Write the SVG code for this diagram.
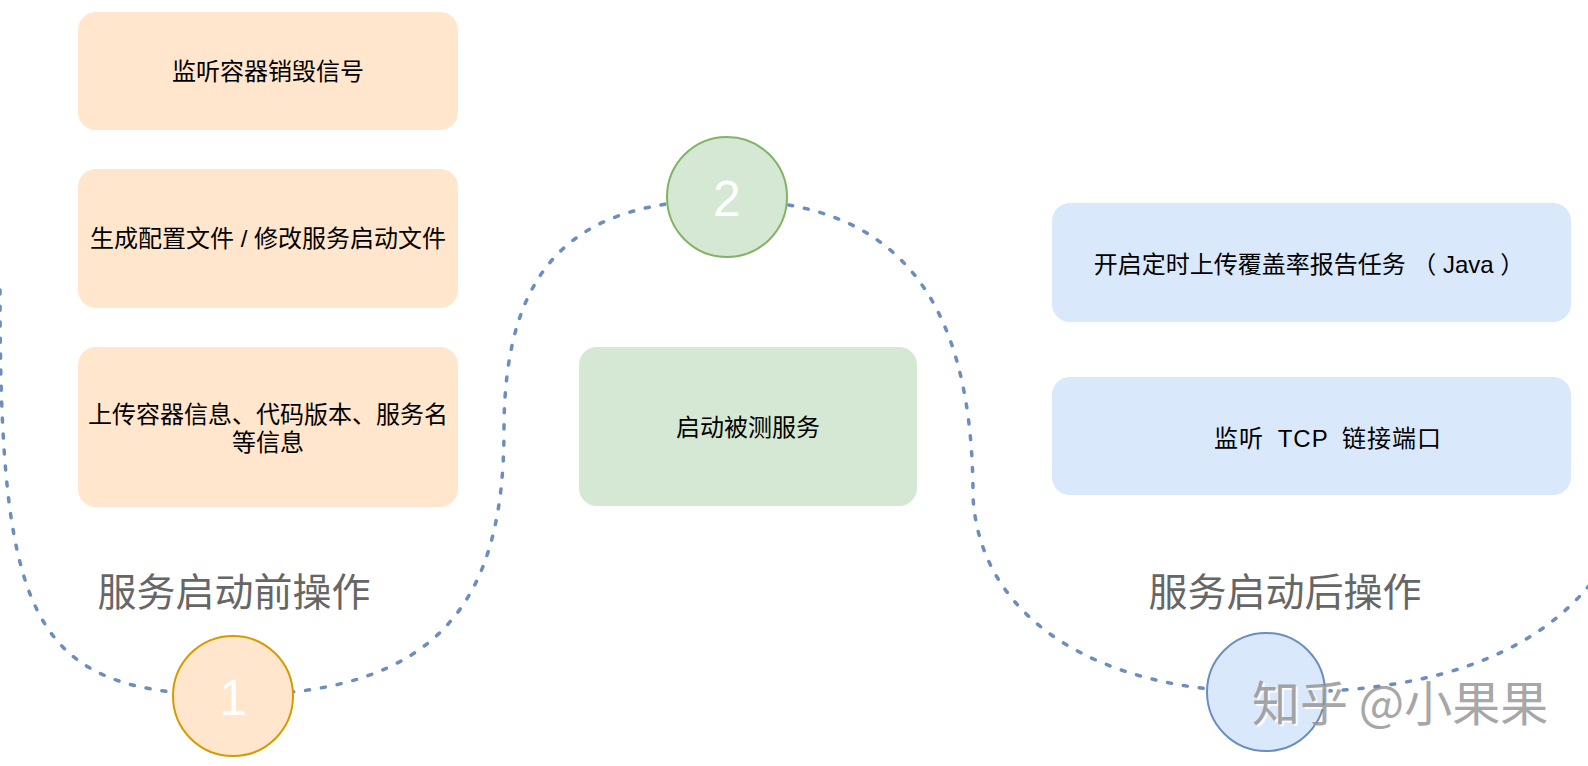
<svg xmlns="http://www.w3.org/2000/svg" width="1588" height="766" viewBox="0 0 1588 766">
<style>
.box{stroke:none}
.orange{fill:#ffe6cc}
.green{fill:#d5e8d4}
.blue{fill:#dae8fc}
.t{font-family:"Liberation Sans","Noto Sans CJK SC",sans-serif;font-size:24px;fill:#000;text-anchor:middle;dominant-baseline:central}
.big{font-family:"Noto Sans CJK SC","Liberation Sans",sans-serif;font-size:39px;fill:#666;text-anchor:middle;dominant-baseline:central}
.num{font-family:"Liberation Sans",Arial,sans-serif;font-size:50px;fill:#fff;text-anchor:middle;dominant-baseline:central}
.curve{fill:none;stroke:#6c8ebf;stroke-width:3.5;stroke-dasharray:4 12;stroke-linecap:round}
.wm{font-family:"Noto Sans CJK SC",sans-serif;font-size:48px;text-anchor:start;dominant-baseline:central}
</style>
<rect width="1588" height="766" fill="#fff"/>
<g id="connectors">
<path class="curve" d="M 0 290 C 0 620, 30 695, 233 695 C 440 695, 504 600, 504 430 C 504 260, 580 200, 727 200 C 890 200, 973 290, 973 497 C 980 620, 1100 692, 1266 692 C 1420 695, 1530 660, 1592 582"/>
</g>
<g id="box-destroy"><rect class="box orange" x="78" y="12" width="380" height="118" rx="18"/><text class="t" x="268" y="71">监听容器销毁信号</text></g>
<g id="box-config"><rect class="box orange" x="78" y="169" width="380" height="139" rx="18"/><text class="t" x="268" y="238">生成配置文件 / 修改服务启动文件</text></g>
<g id="box-upload"><rect class="box orange" x="78" y="347" width="380" height="160" rx="18"/><text class="t" x="268" y="414">上传容器信息、代码版本、服务名</text><text class="t" x="268" y="442">等信息</text></g>
<g id="box-start"><rect class="box green" x="579" y="347" width="338" height="159" rx="18"/><text class="t" x="748" y="427">启动被测服务</text></g>
<g id="box-report"><rect class="box blue" x="1052" y="203" width="519" height="119" rx="18"/><text class="t" x="1309" y="264">开启定时上传覆盖率报告任务 （ Java ）</text></g>
<g id="box-tcp"><rect class="box blue" x="1052" y="377" width="519" height="118" rx="18"/><text class="t" x="1328" y="438" word-spacing="6" letter-spacing="1">监听 TCP 链接端口</text></g>
<g id="label-before"><text class="big" x="234" y="589">服务启动前操作</text></g>
<g id="label-after"><text class="big" x="1285" y="589">服务启动后操作</text></g>
<g id="circle-1"><circle cx="233" cy="696" r="60" fill="#ffe6cc" stroke="#d79b00" stroke-width="2"/><text class="num" x="233" y="698">1</text></g>
<g id="circle-2"><circle cx="727" cy="197" r="60" fill="#d5e8d4" stroke="#82b366" stroke-width="2"/><text class="num" x="727" y="199">2</text></g>
<g id="circle-3"><circle cx="1266" cy="692" r="59" fill="#dae8fc" stroke="#6c8ebf" stroke-width="2"/></g>
<g id="watermark">
<text class="wm" x="1254" y="702" fill="#ffffff" opacity="0.9">知乎 @小果果</text>
<text class="wm" x="1252" y="700" fill="#8a8a8a" opacity="0.75">知乎 @小果果</text>
</g>
</svg>
